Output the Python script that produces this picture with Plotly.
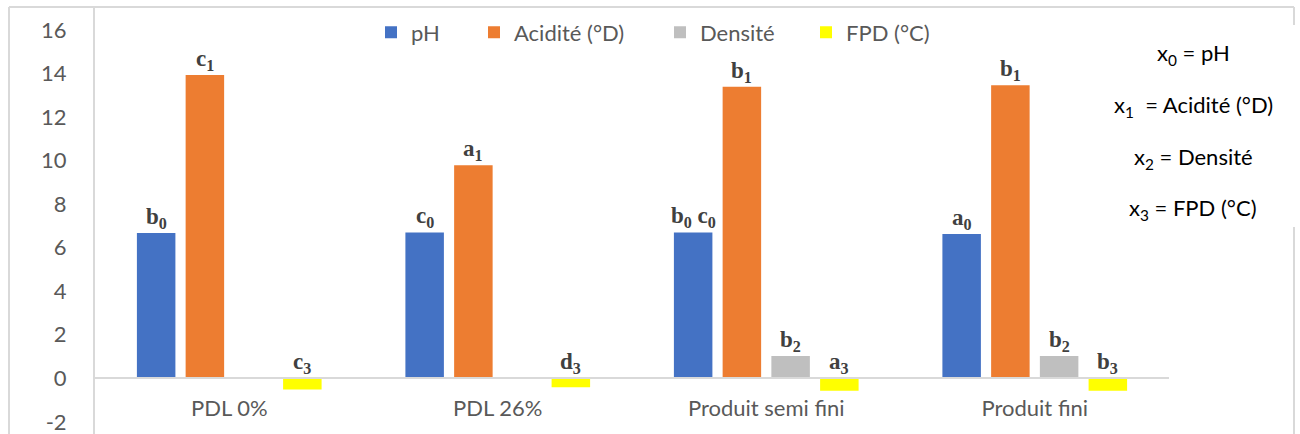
import plotly.graph_objects as go

# ---- data ---------------------------------------------------------------
categories = ["PDL 0%", "PDL 26%", "Produit semi fini", "Produit fini"]

ph = [6.68, 6.70, 6.70, 6.63]
acidite = [13.93, 9.79, 13.39, 13.47]
densite = [None, None, 1.02, 1.02]
fpd = [-0.51, -0.41, -0.57, -0.57]

ph_labels = ["b<sub>0</sub>", "c<sub>0</sub>", "b<sub>0</sub> c<sub>0</sub>", "a<sub>0</sub>"]
acidite_labels = ["c<sub>1</sub>", "a<sub>1</sub>", "b<sub>1</sub>", "b<sub>1</sub>"]
densite_labels = ["", "", "b<sub>2</sub>", "b<sub>2</sub>"]
fpd_labels = ["c<sub>3</sub>", "d<sub>3</sub>", "a<sub>3</sub>", "b<sub>3</sub>"]

series_names = ["pH", "Acidité (°D)", "Densité", "FPD (°C)"]
series_colors = ["#4472C4", "#ED7D31", "#BFBFBF", "#FFFF00"]

y_ticks = [-2, 0, 2, 4, 6, 8, 10, 12, 14, 16]

key_lines = [
    "x<sub>0</sub> = pH",
    "x<sub>1</sub>\u00a0 = Acidité (°D)",
    "x<sub>2</sub> = Densité",
    "x<sub>3</sub> = FPD (°C)",
]

# ---- layout geometry (pixels) -------------------------------------------
W, H = 1300, 434
PLOT_L, PLOT_R, PLOT_T, PLOT_B = 95, 1169, 7, 434
Y_MIN, Y_MAX = -2.56, 17.06
BARGAP, BARGROUPGAP = 0.274, 0.21

TEXT_FONT = "Lato"
TEXT_SIZE = 22
LABEL_FONT = "Liberation Serif"
GREY_TEXT = "#595959"
RULE = "#D9D9D9"


def px_x(px):
    return (px - PLOT_L) / (PLOT_R - PLOT_L)


def px_y(py):
    return (PLOT_B - py) / (PLOT_B - PLOT_T)


fig = go.Figure()

all_values = [ph, acidite, densite, fpd]
all_labels = [ph_labels, acidite_labels, densite_labels, fpd_labels]
legend_ids = ["legend", "legend2", "legend3", "legend4"]

for name, vals, color, lg in zip(series_names, all_values, series_colors, legend_ids):
    fig.add_trace(
        go.Bar(
            x=categories,
            y=vals,
            name=name,
            marker=dict(color=color, line=dict(width=0)),
            legend=lg,
            hoverinfo="skip",
        )
    )

# letter-group labels above each bar (above the zero line for negative bars)
n_series = len(all_values)
slot = (1 - BARGAP) / n_series
annotations = []
for s, (vals, labels) in enumerate(zip(all_values, all_labels)):
    for c, (v, lab) in enumerate(zip(vals, labels)):
        if not lab or v is None:
            continue
        annotations.append(
            dict(
                x=c + (s - (n_series - 1) / 2) * slot,
                y=max(v, 0),
                xref="x",
                yref="y",
                text="<b>" + lab + "</b>",
                showarrow=False,
                yanchor="bottom",
                yshift=-1,
                font=dict(family=LABEL_FONT, size=23, color="#404040"),
            )
        )

# key on the right
key_y = [54, 106, 158, 209]
for line, ky in zip(key_lines, key_y):
    annotations.append(
        dict(
            x=px_x(1193),
            y=px_y(ky),
            xref="paper",
            yref="paper",
            text=line,
            showarrow=False,
            xanchor="center",
            yanchor="middle",
            font=dict(family=TEXT_FONT, size=TEXT_SIZE, color="#000000"),
        )
    )

# frame lines around the chart
shapes = []
frame = [
    (9, 7, 1294, 7),
    (9, 7, 9, 434),
    (1294, 7, 1294, 25),
    (1294, 227, 1294, 434),
]
for x0, y0, x1, y1 in frame:
    shapes.append(
        dict(
            type="line",
            xref="paper",
            yref="paper",
            x0=px_x(x0),
            y0=px_y(y0),
            x1=px_x(x1),
            y1=px_y(y1),
            line=dict(color=RULE, width=2),
        )
    )

# one legend box per series, laid out in a row at the top
legend_text_x = [411, 514, 700, 846]
legend_cfg = {}
for lg, tx in zip(legend_ids, legend_text_x):
    legend_cfg[lg] = dict(
        x=px_x(tx - 40),
        y=px_y(32.5),
        xanchor="left",
        yanchor="middle",
        orientation="h",
        bgcolor="rgba(0,0,0,0)",
        borderwidth=0,
        itemwidth=30,
        font=dict(family=TEXT_FONT, size=TEXT_SIZE, color=GREY_TEXT),
    )

fig.update_layout(
    width=W,
    height=H,
    margin=dict(l=PLOT_L, r=W - PLOT_R, t=PLOT_T, b=H - PLOT_B, pad=0),
    paper_bgcolor="white",
    plot_bgcolor="white",
    barmode="group",
    bargap=BARGAP,
    bargroupgap=BARGROUPGAP,
    showlegend=True,
    annotations=annotations,
    shapes=shapes,
    font=dict(family=TEXT_FONT, size=TEXT_SIZE, color=GREY_TEXT),
    **legend_cfg,
)

fig.update_xaxes(
    type="category",
    anchor="free",
    position=-Y_MIN / (Y_MAX - Y_MIN),
    showline=True,
    linecolor=RULE,
    linewidth=2,
    showgrid=False,
    ticks="",
    ticklabelstandoff=10,
    ticklabeloverflow="allow",
    tickfont=dict(family=TEXT_FONT, size=TEXT_SIZE, color=GREY_TEXT),
    fixedrange=True,
)

fig.update_yaxes(
    range=[Y_MIN, Y_MAX],
    tickvals=y_ticks,
    ticktext=[str(t) for t in y_ticks],
    showgrid=False,
    zeroline=False,
    showline=True,
    linecolor=RULE,
    linewidth=2,
    ticks="",
    ticklabelstandoff=22,
    ticklabeloverflow="allow",
    tickfont=dict(family=TEXT_FONT, size=TEXT_SIZE, color=GREY_TEXT),
    fixedrange=True,
)

fig.write_html("out.html", config={"displayModeBar": False})
